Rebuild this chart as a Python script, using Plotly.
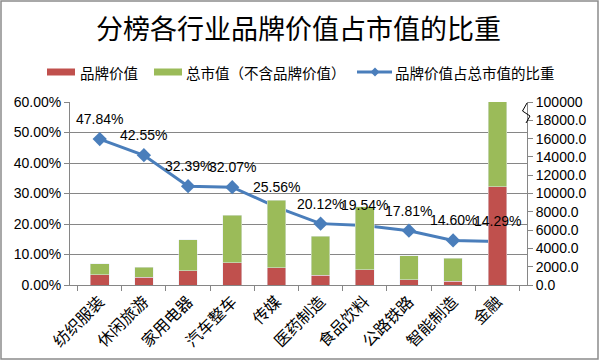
import plotly.graph_objects as go

categories = ['纺织服装', '休闲旅游', '家用电器', '汽车整车', '传媒', '医药制造', '食品饮料', '公路铁路', '智能制造', '金融']
brand_value = [1100, 840, 1560, 2440, 1890, 1090, 1640, 550, 400, 10740]
market_ex_brand = [1230, 1095, 3360, 5180, 7400, 4265, 6920, 2650, 2520, 64420]
brand_ratio = [0.4784, 0.4255, 0.3239, 0.3207, 0.2556, 0.2012, 0.1954, 0.1781, 0.1460, 0.1429]
right_tick_vals = [0, 2000, 4000, 6000, 8000, 10000, 12000, 14000, 16000, 18000, 20000]
right_tick_text = ['0.0', '2000.0', '4000.0', '6000.0', '8000.0', '10000.0', '12000.0',
                   '14000.0', '16000.0', '18000.0', '100000']

W, H = 600, 362
L, R, T, B = 70, 73, 102, 77
PW, PH = W - L - R, H - T - B


def px(x):
    return (x - L) / PW


def py(y):
    return (H - B - y) / PH


RED = '#C0504D'
GREEN = '#9BBB59'
BLUE = '#4A7EBB'
CJK = 'Noto Sans CJK SC'
NUM = 'Liberation Sans'

fig = go.Figure()
fig.add_trace(go.Bar(x=categories, y=brand_value, name='品牌价值', marker_color=RED,
                     yaxis='y2', showlegend=False, cliponaxis=True))
fig.add_trace(go.Bar(x=categories, y=market_ex_brand, name='总市值（不含品牌价值）', marker_color=GREEN,
                     yaxis='y2', showlegend=False, cliponaxis=True))
fig.add_trace(go.Scatter(x=categories, y=brand_ratio, name='品牌价值占总市值的比重', mode='lines+markers',
                         line=dict(color=BLUE, width=3),
                         marker=dict(symbol='diamond', size=11, color=BLUE),
                         showlegend=False, cliponaxis=False))

shapes = []
annotations = []
# data labels for the ratio line
for c, v in zip(categories, brand_ratio):
    annotations.append(dict(x=c, y=v, xref='x', yref='y', text=f'{v*100:.2f}%', showarrow=False,
                            yshift=20, xanchor='center', yanchor='middle',
                            font=dict(family=NUM, size=14, color='#000')))
# outer frame
shapes.append(dict(type='rect', xref='paper', yref='paper', x0=px(1), x1=px(598), y0=py(359), y1=py(1),
                   line=dict(color='#8c8c8c', width=1.5), fillcolor='rgba(0,0,0,0)', layer='above'))
# legend
leg_y = py(72)
shapes.append(dict(type='rect', xref='paper', yref='paper', x0=px(47), x1=px(75), y0=py(75.5), y1=py(68.5),
                   line=dict(width=0), fillcolor=RED))
annotations.append(dict(text='品牌价值', xref='paper', yref='paper', x=px(78), y=leg_y, xanchor='left',
                        yanchor='middle', showarrow=False, font=dict(family=CJK, size=14.5, color='#000')))
shapes.append(dict(type='rect', xref='paper', yref='paper', x0=px(154), x1=px(182), y0=py(75.5), y1=py(68.5),
                   line=dict(width=0), fillcolor=GREEN))
annotations.append(dict(text='总市值（不含品牌价值）', xref='paper', yref='paper', x=px(184), y=leg_y,
                        xanchor='left', yanchor='middle', showarrow=False,
                        font=dict(family=CJK, size=14.5, color='#000')))
shapes.append(dict(type='line', xref='paper', yref='paper', x0=px(357), x1=px(392), y0=leg_y, y1=leg_y,
                   line=dict(color=BLUE, width=3)))
shapes.append(dict(type='path', xref='paper', yref='paper',
                   path=f'M {px(375)},{py(67.5)} L {px(379.5)},{py(72)} L {px(375)},{py(76.5)} L {px(370.5)},{py(72)} Z',
                   line=dict(width=0), fillcolor=BLUE))
annotations.append(dict(text='品牌价值占总市值的比重', xref='paper', yref='paper', x=px(393), y=leg_y,
                        xanchor='left', yanchor='middle', showarrow=False,
                        font=dict(family=CJK, size=14.5, color='#000')))
# axis break mark
shapes.append(dict(type='path', xref='paper', yref='paper',
                   path=f'M {px(527)},{py(103)} L {px(522.5)},{py(111)} L {px(530)},{py(116)} L {px(526)},{py(123)}',
                   line=dict(color='#000000', width=1)))

fig.update_layout(
    width=W, height=H,
    margin=dict(l=L, r=R, t=T, b=B, autoexpand=False),
    paper_bgcolor='white', plot_bgcolor='white',
    barmode='stack', bargap=0.58,
    title=dict(text='分榜各行业品牌价值占市值的比重', x=0.5, xref='paper', xanchor='center',
               y=1 - 30 / H, yanchor='middle', yref='container',
               font=dict(family=CJK, size=27, color='#000')),
    xaxis=dict(tickangle=-45, tickfont=dict(family=CJK, size=16, color='#000'),
               ticks='outside', tickson='boundaries', ticklen=5, tickcolor='#868686',
               showline=True, linecolor='#868686', linewidth=1, showgrid=False, automargin=False),
    yaxis=dict(range=[0, 0.6], dtick=0.1, tickformat='.2%', tickfont=dict(family=NUM, size=14, color='#000'),
               showgrid=True, gridcolor='#868686', gridwidth=1, showline=True, linecolor='#868686',
               ticks='outside', ticklen=5, tickcolor='#868686', zeroline=False, automargin=False),
    yaxis2=dict(range=[0, 20000], overlaying='y', side='right', tickvals=right_tick_vals,
                ticktext=right_tick_text, tickfont=dict(family=NUM, size=14, color='#000'),
                showgrid=False, showline=True, linecolor='#868686', ticks='outside', ticklen=5,
                tickcolor='#868686', zeroline=False, automargin=False),
    shapes=shapes, annotations=annotations,
)

fig.write_html('out.html', config={'displayModeBar': False},
               post_script="document.body.style.margin='0';document.body.style.padding='0';")
